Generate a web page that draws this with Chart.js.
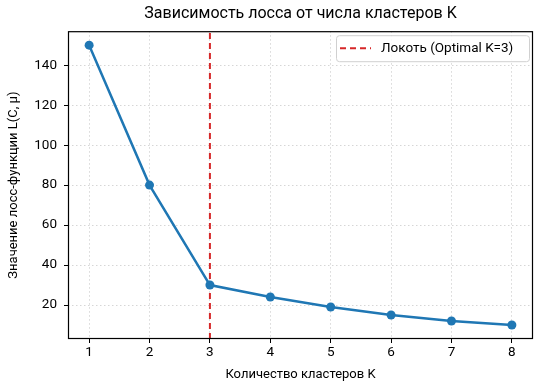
<!DOCTYPE html>
<html>
<head>
<meta charset="utf-8">
<script src="https://cdn.jsdelivr.net/npm/chart.js@4.4.0/dist/chart.umd.min.js"></script>
<style>
  html, body { margin: 0; padding: 0; background: #fff; }
  #wrap { width: 541px; height: 392px; }
</style>
</head>
<body>
<div id="wrap"><canvas id="chart" width="541" height="392"></canvas></div>
<script>
// data
const clusters = [1, 2, 3, 4, 5, 6, 7, 8];
const lossValues = [150, 80, 30, 24, 19, 15, 12, 10];
const optimalK = 3;
const xTicks = [1, 2, 3, 4, 5, 6, 7, 8];
const yTicks = [20, 40, 60, 80, 100, 120, 140];
const xRange = [0.65, 8.35];
const yRange = [3, 157];

const FONT = "Roboto, 'DejaVu Sans', sans-serif";

// matplotlib-like frame around the plot + boxed legend
const framePlugin = {
    id: 'frame',
    afterLayout(chart) {
        // center the title over the plot area, like matplotlib does
        const t = chart.titleBlock;
        if (t) {
            t.left = chart.chartArea.left;
            t.right = chart.chartArea.right;
            t.width = t.right - t.left;
        }
    },
    afterDraw(chart) {
        const { ctx, chartArea: a } = chart;
        ctx.save();
        ctx.strokeStyle = '#000';
        ctx.lineWidth = 1.2;
        ctx.strokeRect(a.left + 0.5, a.top + 0.5, a.right - a.left - 1, a.bottom - a.top - 1);

        // legend box
        const ds = chart.data.datasets[1];
        const w = 193, h = 26;
        const x = a.right - 4 - w, y = a.top + 4;
        ctx.fillStyle = 'rgba(255,255,255,0.85)';
        ctx.strokeStyle = '#d0d0d0';
        ctx.lineWidth = 1;
        ctx.beginPath();
        ctx.roundRect(x + 0.5, y + 0.5, w, h, 3);
        ctx.fill();
        ctx.stroke();
        ctx.strokeStyle = ds.borderColor;
        ctx.lineWidth = ds.borderWidth;
        ctx.setLineDash(ds.borderDash);
        ctx.beginPath();
        ctx.moveTo(x + 4, y + 13);
        ctx.lineTo(x + 35, y + 13);
        ctx.stroke();
        ctx.setLineDash([]);
        ctx.fillStyle = '#000';
        ctx.font = '13.5px ' + FONT;
        ctx.textBaseline = 'middle';
        ctx.fillText(ds.label, x + 45, y + 13.5);
        ctx.restore();
    }
};

const gridStyle = {
    color: '#cccccc',
    lineWidth: 0.8,
    tickColor: '#000',
    tickBorderDash: [],
    tickLength: 4,
    tickWidth: 1
};
const borderStyle = { display: false, dash: [1.5, 2.5] };

new Chart(document.getElementById('chart'), {
    type: 'line',
    data: {
        datasets: [{
            label: 'Loss',
            data: clusters.map((k, i) => ({ x: k, y: lossValues[i] })),
            borderColor: '#1f77b4',
            backgroundColor: '#1f77b4',
            borderWidth: 2.5,
            pointRadius: 4.5,
            pointHoverRadius: 4.5,
            pointBorderWidth: 0,
            tension: 0
        }, {
            label: 'Локоть (Optimal K=3)',
            data: [{ x: optimalK, y: yRange[0] }, { x: optimalK, y: yRange[1] }],
            borderColor: '#d62728',
            borderWidth: 2,
            borderDash: [6, 4],
            pointRadius: 0,
            fill: false
        }]
    },
    options: {
        responsive: false,
        animation: false,
        layout: { padding: { left: 0, right: 8, top: 0, bottom: 0 } },
        plugins: {
            legend: { display: false },
            tooltip: { enabled: false },
            title: {
                display: true,
                text: 'Зависимость лосса от числа кластеров K',
                color: '#000',
                font: { family: FONT, size: 16, weight: 'normal', lineHeight: 1.2 },
                padding: { top: 4, bottom: 8 }
            }
        },
        scales: {
            x: {
                type: 'linear',
                min: xRange[0],
                max: xRange[1],
                afterBuildTicks: s => { s.ticks = xTicks.map(v => ({ value: v })); },
                afterFit: s => { s.height = 53; },
                grid: gridStyle,
                border: borderStyle,
                ticks: { color: '#000', padding: 2, font: { family: FONT, size: 13.5 } },
                title: {
                    display: true,
                    text: 'Количество кластеров K',
                    color: '#000',
                    font: { family: FONT, size: 13, lineHeight: 1.2 },
                    padding: { top: 9, bottom: 9 }
                }
            },
            y: {
                type: 'linear',
                min: yRange[0],
                max: yRange[1],
                afterBuildTicks: s => { s.ticks = yTicks.map(v => ({ value: v })); },
                afterFit: s => { s.width = 68; },
                grid: gridStyle,
                border: borderStyle,
                ticks: { color: '#000', padding: 7, font: { family: FONT, size: 13.5 } },
                title: {
                    display: true,
                    text: 'Значение лосс-функции L(C, μ)',
                    color: '#000',
                    font: { family: FONT, size: 13, lineHeight: 1.2 },
                    padding: { top: 6, bottom: 6 }
                }
            }
        }
    },
    plugins: [framePlugin]
});
</script>
</body>
</html>
